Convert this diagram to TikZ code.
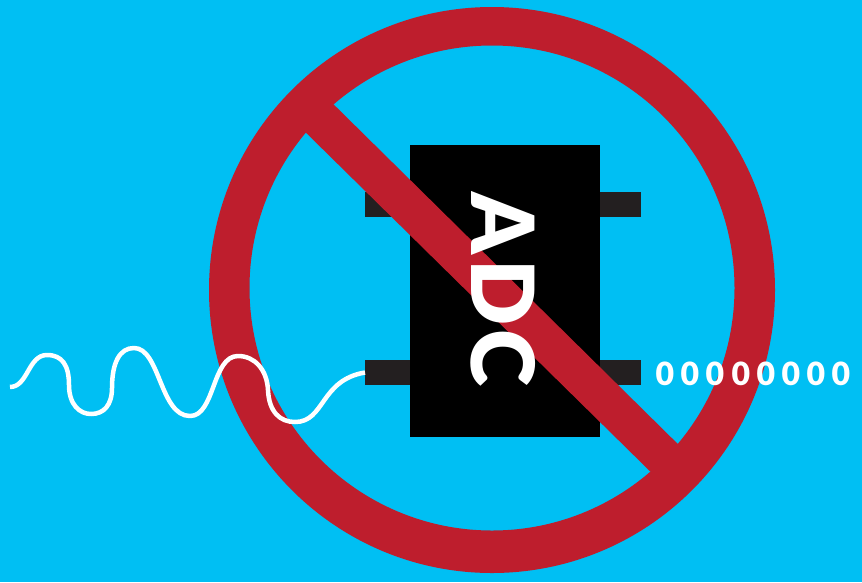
\documentclass[tikz,border=0pt]{standalone}
\usepackage{fontspec}
\newfontfamily\labelfont{Lato Black}
\definecolor{skybg}{HTML}{00BFF3}
\definecolor{signred}{HTML}{BE1E2D}
\definecolor{pindark}{HTML}{231F20}
\tikzset{
  pinbox/.style={fill=pindark,draw=none,inner sep=0pt,minimum width=#1,minimum height=25pt,anchor=west},
  chipbox/.style={fill=black,draw=none,inner sep=0pt,minimum width=190pt,minimum height=292pt},
  digit/.style={text=white,inner sep=0pt,font=\labelfont\fontsize{32}{32}\selectfont},
  chiplabel/.style={text=white,inner sep=0pt,rotate=-90,font=\labelfont\fontsize{87}{87}\selectfont},
  signal/.style={draw=white,line width=4.5pt,line join=round}
}
\begin{document}
\begin{tikzpicture}[x=1pt,y=-1pt]
\useasboundingbox (0,0) rectangle (862,582);
\fill[skybg] (0,0) rectangle (862,582);
% ring
\fill[signred,even odd rule] (492,290) circle[radius=283] (492,288) circle[radius=242.5];
% chip
\node[pinbox=45pt] (pinA) at (365,204.5) {};
\node[pinbox=45pt] (pinC) at (365,372.5) {};
\node[pinbox=41pt] (pinB) at (600,204.5) {};
\node[pinbox=41pt] (pinD) at (600,372.5) {};
\node[chipbox] (chip) at (505,291) {};
% bar
\fill[signred] (318,89) -- (690,456) -- (665,486) -- (291,118) -- cycle;
\node[chiplabel] (adc) at (503,290) {A\kern4.5pt D\kern4.5pt C};
% digits
\foreach \n/\x in {1/665,2/690,3/715,4/741,5/766,6/791,7/816,8/841}
  \node[digit] (d\n) at (\x,374) {0};
% signal
\coordinate (sigstart) at (10,387);
\draw[signal] (sigstart)
  .. controls (28,387) and (28,355) .. (47,355)
  .. controls (62,355) and (69,365) .. (69,385)
  .. controls (69,405) and (80,414) .. (91,414)
  .. controls (104,414) and (112,405) .. (112,388)
  .. controls (112,362) and (120,348) .. (134,348)
  .. controls (160,348) and (160,416) .. (190,416)
  .. controls (215,416) and (212,356) .. (238,356)
  .. controls (255,356) and (267,370) .. (268,390)
  .. controls (269,412) and (280,422) .. (295,422)
  .. controls (325,422) and (320,380) .. (pinC.west);
\end{tikzpicture}
\end{document}
